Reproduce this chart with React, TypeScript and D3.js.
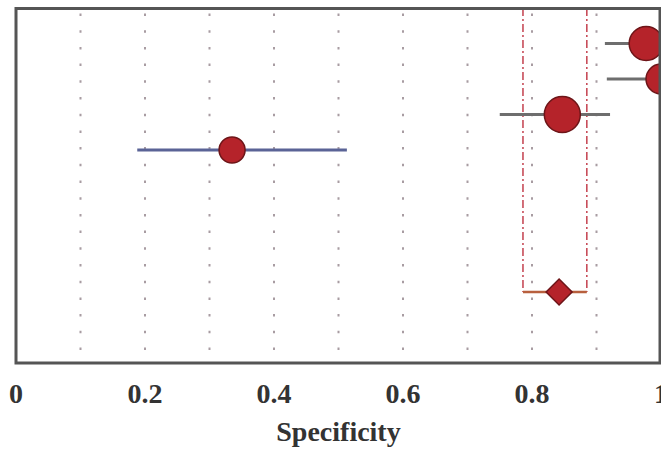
import React from "react";
import * as d3 from "d3";

// Per-study specificity estimates with 95% CI and study weight (%)
const studies = ["Study 1", "Study 2", "Study 3", "Study 4"];
const specificity = [0.977, 1.0, 0.847, 0.335];
const ciLower = [0.913, 0.916, 0.75, 0.188];
const ciUpper = [1.0, 1.0, 0.921, 0.513];
const weights = [28.7, 22.3, 32.2, 16.8];

// Pooled estimate
const pooled = 0.842;
const pooledLower = 0.786;
const pooledUpper = 0.885;

const xTicks = [0, 0.2, 0.4, 0.6, 0.8, 1];
const gridTicks = [0.1, 0.2, 0.3, 0.4, 0.5, 0.6, 0.7, 0.8, 0.9];
const xLabel = "Specificity";

const W = 661;
const H = 451;
const left = 16;
const right = 660;
const top = 8;
const bottom = 363;

export default function App() {
  const x = d3.scaleLinear().domain([0, 1]).range([left, 661]);
  const y = d3.scaleLinear().domain([-1, 9]).range([top, bottom]);
  const r = d3.scaleSqrt().domain([0, d3.max(weights) as number]).range([0, 18]);
  const pooledRow = 7;
  const py = y(pooledRow);
  const diamond = d3.symbol(d3.symbolSquare, 338)() as string;
  const font = "'Liberation Serif', 'DejaVu Serif', serif";
  const ciColors = ["#6e6e6e", "#6e6e6e", "#6e6e6e", "#5a6396"];

  return (
    <svg
      width={W}
      height={H}
      style={{ position: "absolute", left: 0, top: 0, background: "#fff" }}
    >
      <defs>
        <clipPath id="plot-clip">
          <rect x={left} y={top} width={right - left} height={bottom - top} />
        </clipPath>
      </defs>
      <rect x={0} y={0} width={W} height={H} fill="#fff" />
      <g clipPath="url(#plot-clip)">
        {gridTicks.map((t) => (
          <line
            key={t}
            x1={x(t)}
            x2={x(t)}
            y1={top}
            y2={bottom}
            stroke="#a89ca2"
            strokeWidth={2}
            strokeDasharray="2.5 14.2"
            strokeDashoffset={-5.5}
          />
        ))}
        {[pooledLower, pooledUpper].map((v, i) => (
          <line
            key={i}
            x1={x(v)}
            x2={x(v)}
            y1={top}
            y2={py}
            stroke="#c4404e"
            strokeWidth={1.5}
            strokeDasharray="8 3 2 3"
          />
        ))}
        <line
          x1={x(pooledLower)}
          x2={x(pooledUpper)}
          y1={py}
          y2={py}
          stroke="#b8603e"
          strokeWidth={2.5}
        />
        <path
          d={diamond}
          transform={`translate(${x(pooled)},${py}) rotate(45)`}
          fill="#b5232a"
          stroke="#6d1518"
          strokeWidth={1.5}
        />
        {studies.map((s, i) => (
          <g key={s}>
            <line
              x1={x(ciLower[i])}
              x2={x(ciUpper[i])}
              y1={y(i)}
              y2={y(i)}
              stroke={ciColors[i]}
              strokeWidth={3}
            />
            <circle
              cx={x(specificity[i])}
              cy={y(i)}
              r={r(weights[i])}
              fill="#b5232a"
              stroke="#6d1518"
              strokeWidth={1.5}
            />
          </g>
        ))}
      </g>
      <rect
        x={left}
        y={top + 0.5}
        width={right - left}
        height={bottom - top - 0.5}
        fill="none"
        stroke="#555"
        strokeWidth={3}
      />
      {xTicks.map((t) => (
        <text
          key={t}
          x={x(t)}
          y={403}
          textAnchor="middle"
          fontFamily={font}
          fontWeight="bold"
          fontSize={28}
          fill="#333"
        >
          {d3.format("~g")(t)}
        </text>
      ))}
      <text
        x={x(0.5)}
        y={441}
        textAnchor="middle"
        fontFamily={font}
        fontWeight="bold"
        fontSize={28}
        fill="#333"
      >
        {xLabel}
      </text>
    </svg>
  );
}
